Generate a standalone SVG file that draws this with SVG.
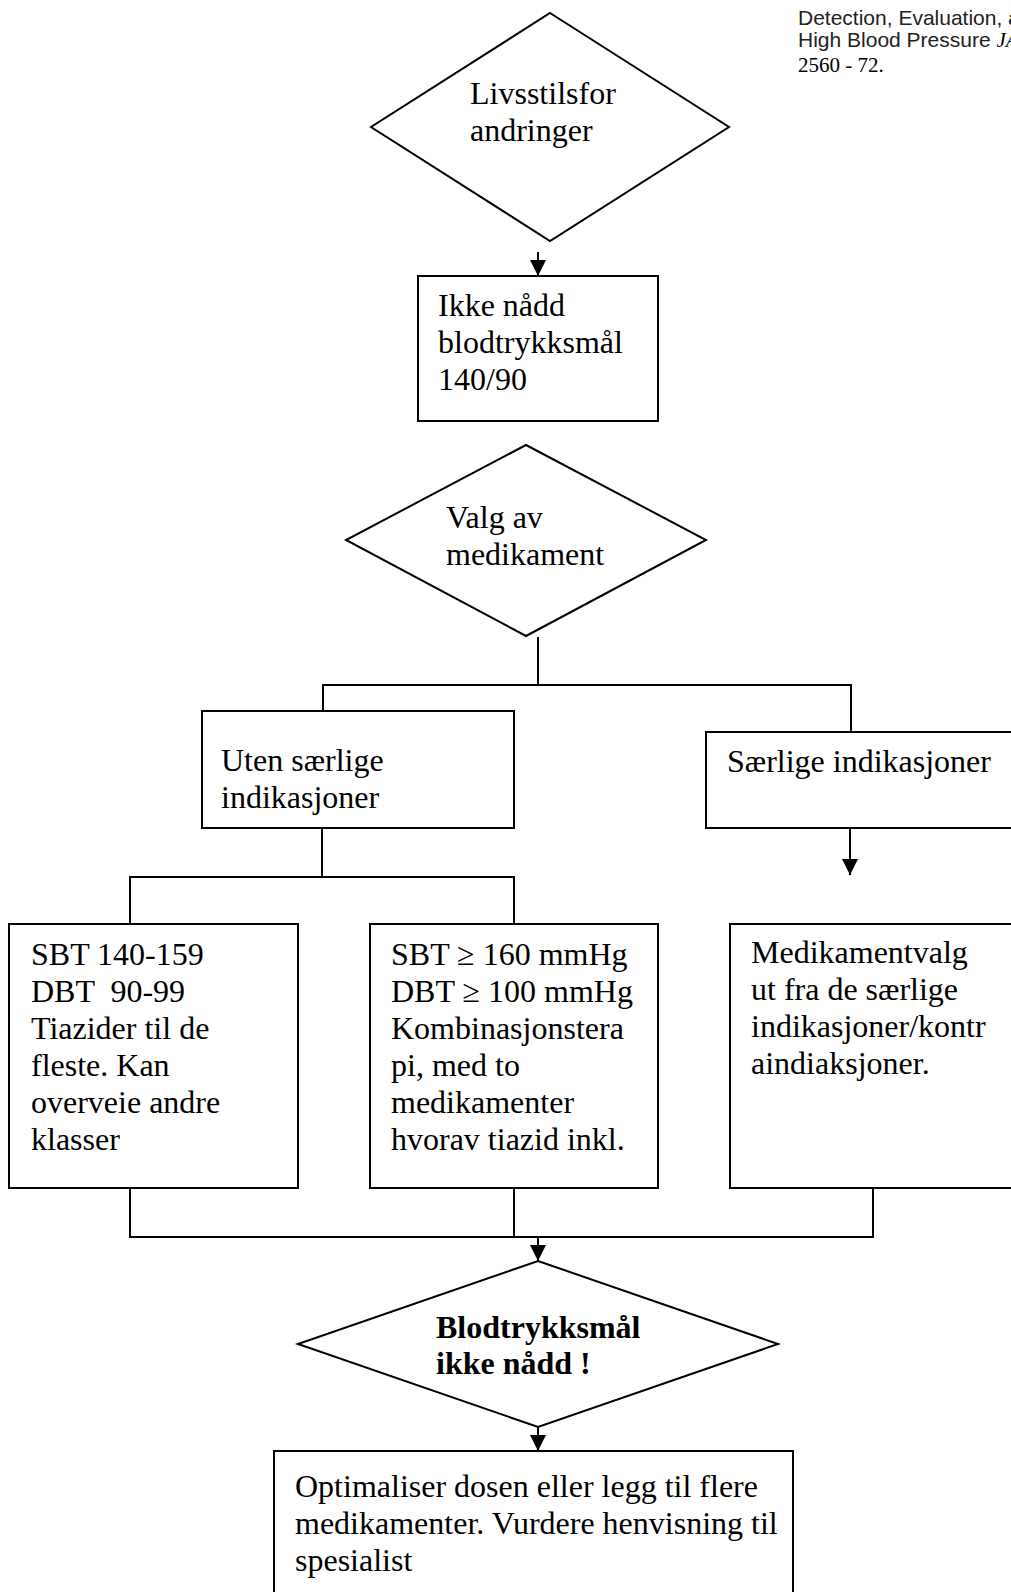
<svg xmlns="http://www.w3.org/2000/svg" width="1011" height="1592" viewBox="0 0 1011 1592">
<style>
.shape{fill:#fff;stroke:#000;stroke-width:2}
.t{font-family:"Liberation Serif","Times New Roman",serif;font-size:32px;fill:#000}
.b{font-weight:bold}
.pre{white-space:pre}
.ref{font-family:"Liberation Sans",Arial,sans-serif;font-size:21px;fill:#222}
.refs{font-family:"Liberation Serif","Times New Roman",serif;font-size:21px;fill:#000}
.c{fill:none;stroke:#000;stroke-width:2}
</style>
<defs>
<marker id="ah" markerUnits="userSpaceOnUse" markerWidth="16" markerHeight="17" viewBox="0 0 16 17" refX="16" refY="8" orient="auto">
<path d="M0,0 L16,8 L0,16 Z" fill="#000"/>
</marker>
</defs>
<rect width="1011" height="1592" fill="#fff"/>

<g id="reference">
<text class="ref" x="798" y="25">Detection, Evaluation, and</text>
<text class="ref" x="798" y="47">High Blood Pressure <tspan class="refs" font-style="italic">JAMA</tspan></text>
<text class="refs" x="798" y="72">2560 - 72.</text>
</g>

<g id="connectors">
<line class="c" x1="538" y1="252" x2="538" y2="276" marker-end="url(#ah)"/>
<polyline class="c" points="538,637 538,685"/>
<polyline class="c" points="323,711 323,685 851,685 851,732"/>
<polyline class="c" points="322,828 322,877"/>
<polyline class="c" points="130,924 130,877 514,877 514,924"/>
<line class="c" x1="850" y1="828" x2="850" y2="875" marker-end="url(#ah)"/>
<polyline class="c" points="130,1188 130,1237 873,1237 873,1188"/>
<line class="c" x1="514" y1="1188" x2="514" y2="1237"/>
<line class="c" x1="538" y1="1237" x2="538" y2="1261" marker-end="url(#ah)"/>
<line class="c" x1="538" y1="1427" x2="538" y2="1451" marker-end="url(#ah)"/>
</g>

<g id="livsstil">
<polygon class="shape" points="550,13 729,127 550,241 371,127"/>
<text class="t" x="470" y="104">Livsstilsfor</text>
<text class="t" x="470" y="141">andringer</text>
</g>

<g id="ikke-naadd">
<rect class="shape" x="418" y="276" width="240" height="145"/>
<text class="t" x="438" y="316">Ikke nådd</text>
<text class="t" x="438" y="353">blodtrykksmål</text>
<text class="t" x="438" y="390">140/90</text>
</g>

<g id="valg">
<polygon class="shape" points="526,445 706,540 526,636 346,540"/>
<text class="t" x="446" y="528">Valg av</text>
<text class="t" x="446" y="565">medikament</text>
</g>

<g id="uten">
<rect class="shape" x="202" y="711" width="312" height="117"/>
<text class="t" x="221" y="771">Uten særlige</text>
<text class="t" x="221" y="808">indikasjoner</text>
</g>

<g id="saerlige">
<rect class="shape" x="706" y="732" width="320" height="96"/>
<text class="t" x="727" y="772">Særlige indikasjoner</text>
</g>

<g id="sbt1">
<rect class="shape" x="9" y="924" width="289" height="264"/>
<text class="t" x="31" y="965">SBT 140-159</text>
<text class="t pre" x="31" y="1002" xml:space="preserve">DBT  90-99</text>
<text class="t" x="31" y="1039">Tiazider til de</text>
<text class="t" x="31" y="1076">fleste. Kan</text>
<text class="t" x="31" y="1113">overveie andre</text>
<text class="t" x="31" y="1150">klasser</text>
</g>

<g id="sbt2">
<rect class="shape" x="370" y="924" width="288" height="264"/>
<text class="t" x="391" y="965">SBT ≥ 160 mmHg</text>
<text class="t" x="391" y="1002">DBT ≥ 100 mmHg</text>
<text class="t" x="391" y="1039">Kombinasjonstera</text>
<text class="t" x="391" y="1076">pi, med to</text>
<text class="t" x="391" y="1113">medikamenter</text>
<text class="t" x="391" y="1150">hvorav tiazid inkl.</text>
</g>

<g id="medikamentvalg">
<rect class="shape" x="730" y="924" width="300" height="264"/>
<text class="t" x="751" y="963">Medikamentvalg</text>
<text class="t" x="751" y="1000">ut fra de særlige</text>
<text class="t" x="751" y="1037">indikasjoner/kontr</text>
<text class="t" x="751" y="1074">aindiaksjoner.</text>
</g>

<g id="maal-ikke-naadd">
<polygon class="shape" points="538,1261 778,1344 538,1427 298,1344"/>
<text class="t b" x="436" y="1338">Blodtrykksmål</text>
<text class="t b" x="436" y="1374">ikke nådd !</text>
</g>

<g id="optimaliser">
<rect class="shape" x="274" y="1451" width="519" height="160"/>
<text class="t" x="295" y="1497">Optimaliser dosen eller legg til flere</text>
<text class="t" x="295" y="1534">medikamenter. Vurdere henvisning til</text>
<text class="t" x="295" y="1571">spesialist</text>
</g>
</svg>
